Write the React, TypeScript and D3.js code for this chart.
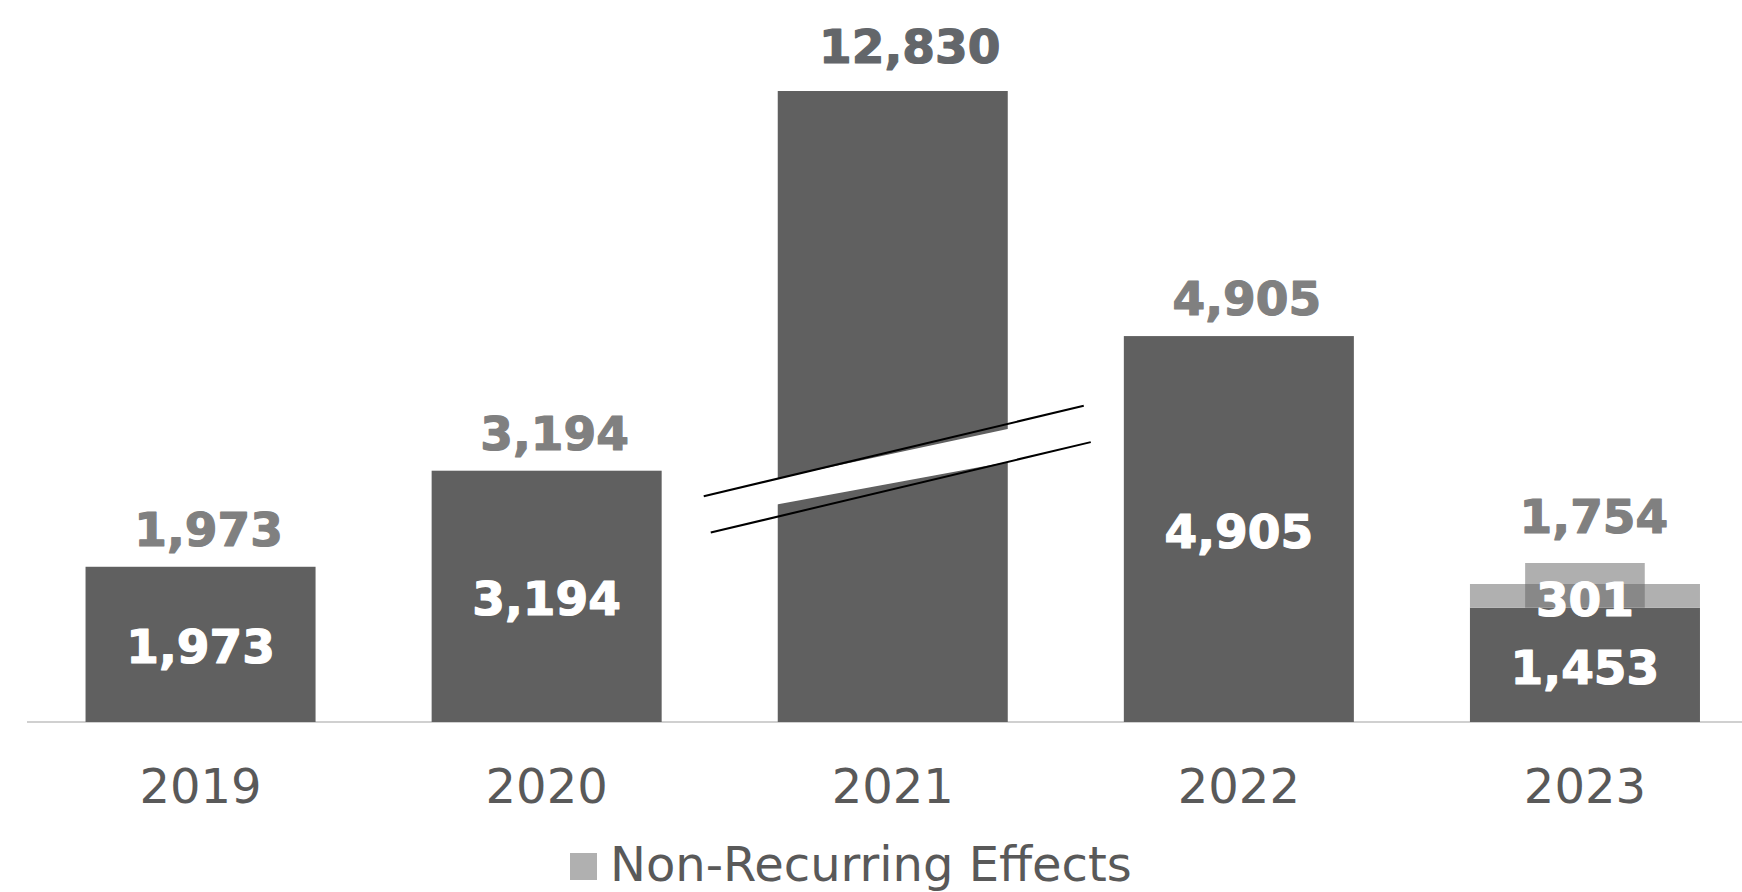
import React from 'react';
import * as d3 from 'd3';

const years = ['2019', '2020', '2021', '2022', '2023'];
const recurring = [1973, 3194, 12830, 4905, 1453];
const nonRecurring = [0, 0, 0, 0, 301];
const totals = [1973, 3194, 12830, 4905, 1754];
const showInnerLabel = [true, true, false, true, true];
const legendLabels = ['Non-Recurring Effects'];
const axisCap = 8020; // broken-axis display cap
const breakValue = 3200;

const W = 1742;
const H = 892;
const DARK = '#606060';
const LIGHT = '#b0b0b0';
const FONT = '"DejaVu Sans", Verdana, sans-serif';

export default function App() {
  const x = d3
    .scaleBand<string>()
    .domain(years)
    .range([27.5, 1758])
    .paddingInner(0.3354)
    .paddingOuter(0.1677);
  const y = d3.scaleLinear().domain([0, axisCap]).range([722, 91]);
  const bw = x.bandwidth();
  const fmt = d3.format(',');

  const labelLift = [21, 21, 28, 21, 51];
  const labelShift = [8, 8, 17, 8, 9];

  // break annotation on the capped bar
  const breakIdx = recurring.findIndex((v) => v > axisCap);
  const bx0 = x(years[breakIdx])!;
  const bx1 = bx0 + bw;
  const bcx = bx0 + bw / 2;
  const slope = -0.238;
  const yMid = y(breakValue);
  const l1c = yMid - 19;
  const l2c = yMid + 19;
  const line1 = (xx: number) => l1c + slope * (xx - bcx);
  const line2 = (xx: number) => l2c + slope * (xx - bcx);
  const la = bx0 - 74;
  const lb = bx1 + 76;
  const la2 = bx0 - 67;
  const lb2 = bx1 + 83;

  const boldProps = (fill: string) => ({
    fill,
    stroke: fill,
    strokeWidth: 1.2,
    strokeLinejoin: 'round' as const,
    fontFamily: FONT,
    fontWeight: 'bold' as const,
    fontSize: 47,
    textAnchor: 'middle' as const,
  });

  return (
    <svg
      width={W}
      height={H}
      style={{ position: 'absolute', left: 0, top: 0, display: 'block', background: '#fff' }}
    >
      {/* axis line */}
      <line x1={27} x2={W} y1={y(0)} y2={y(0)} stroke="#d0d0d0" strokeWidth={2} />

      {years.map((yr, i) => {
        const x0 = x(yr)!;
        const cx = x0 + bw / 2;
        const recTop = y(Math.min(recurring[i], axisCap));
        const nrTop = y(recurring[i] + nonRecurring[i]);
        const stackTop = nonRecurring[i] > 0 ? nrTop : recTop;
        return (
          <g key={yr}>
            <rect x={x0} y={recTop} width={bw} height={y(0) - recTop} fill={DARK} />
            {nonRecurring[i] > 0 && (
              <>
                <rect x={x0} y={nrTop} width={bw} height={recTop - nrTop} fill={LIGHT} />
                <rect
                  x={cx - bw * 0.26}
                  y={nrTop - 21}
                  width={bw * 0.52}
                  height={recTop - nrTop + 21}
                  fill={DARK}
                  fillOpacity={0.5}
                />
                <text x={cx} y={(nrTop + recTop) / 2 + 20} {...boldProps('#fff')}>
                  {fmt(nonRecurring[i])}
                </text>
              </>
            )}
            {showInnerLabel[i] && (
              <text x={cx} y={(recTop + y(0)) / 2 + 19} {...boldProps('#fff')}>
                {fmt(recurring[i])}
              </text>
            )}
            <text
              x={cx + labelShift[i]}
              y={stackTop - labelLift[i]}
              {...boldProps(recurring[i] > axisCap ? '#63666a' : '#808080')}
            >
              {fmt(totals[i])}
            </text>
            <text
              x={cx}
              y={803}
              textAnchor="middle"
              fill="#595959"
              fontFamily={FONT}
              fontSize={48}
            >
              {yr}
            </text>
          </g>
        );
      })}

      {/* break gap */}
      <polygon
        points={[
          [bx0 - 1, line1(bx0)],
          [bx1 + 1, line1(bx1) + 5],
          [bx1 + 1, line2(bx1)],
          [bx0 - 1, line2(bx0) - 12],
        ]
          .map((p) => p.join(','))
          .join(' ')}
        fill="#fff"
      />
      <line x1={la} y1={line1(la)} x2={lb} y2={line1(lb)} stroke="#000" strokeWidth={2} />
      <line x1={la2} y1={line2(la2)} x2={lb2} y2={line2(lb2)} stroke="#000" strokeWidth={2} />

      {/* legend */}
      <rect x={570} y={853} width={27} height={27} fill={LIGHT} />
      <text x={610} y={881} fill="#595959" fontFamily={FONT} fontSize={48}>
        {legendLabels[0]}
      </text>
    </svg>
  );
}
